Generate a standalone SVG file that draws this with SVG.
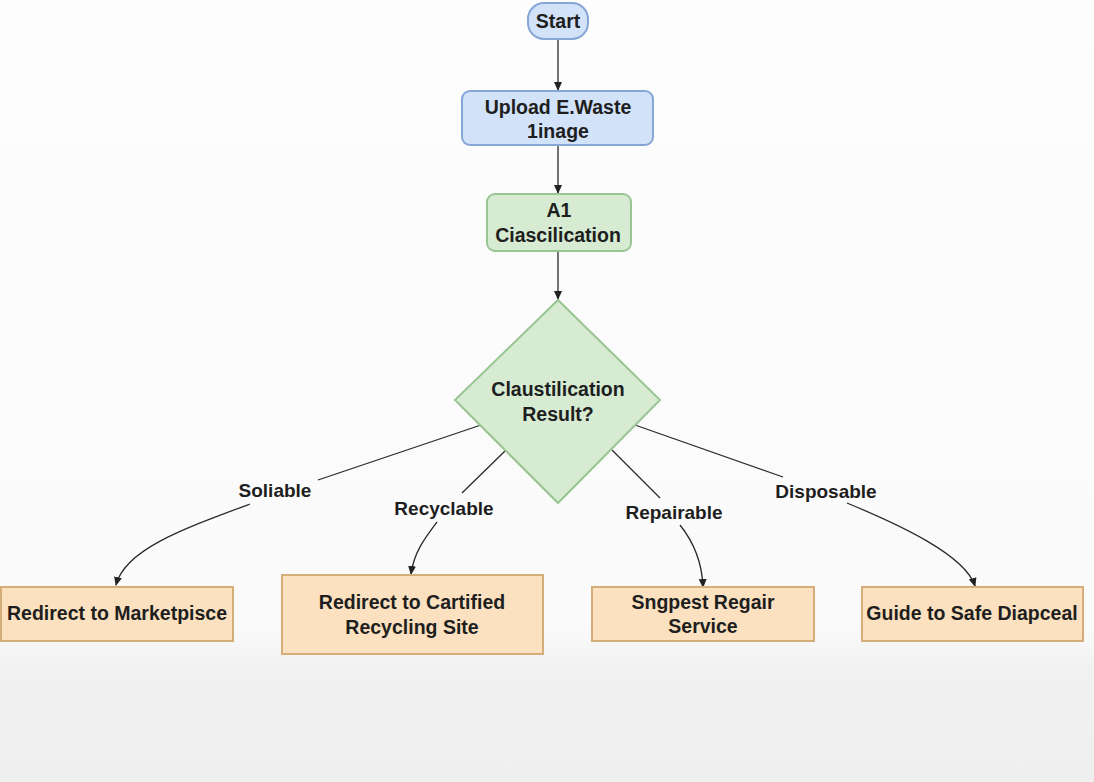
<svg xmlns="http://www.w3.org/2000/svg" width="1094" height="782" viewBox="0 0 1094 782">
<defs>
<linearGradient id="bg" x1="0" y1="0" x2="0" y2="1">
<stop offset="0" stop-color="#fdfdfd"/>
<stop offset="0.8" stop-color="#fafafa"/>
<stop offset="0.86" stop-color="#f1f1f1"/>
<stop offset="1" stop-color="#efefef"/>
</linearGradient>
<marker id="ah" markerWidth="10" markerHeight="10" refX="8" refY="5" orient="auto" markerUnits="userSpaceOnUse">
<path d="M0,1 L9,5 L0,9 Z" fill="#222"/>
</marker>
<style>
text{font-family:"Liberation Sans",Arial,sans-serif;font-weight:bold;fill:#1e1e1e;text-anchor:middle}
.n{font-size:19.5px}
.lb{font-size:19px}
.blue{fill:#d2e2f8;stroke:#86a6d6;stroke-width:2}
.green{fill:#d6ebd2;stroke:#98c592;stroke-width:2}
.org{fill:#fbe1bf;stroke:#d4ad78;stroke-width:2}
.c{fill:none;stroke:#2a2a2a;stroke-width:1.3}
</style>
</defs>
<rect width="1094" height="782" fill="url(#bg)"/>
<g id="connectors">
<line class="c" x1="558" y1="39" x2="558" y2="90" marker-end="url(#ah)"/>
<line class="c" x1="558" y1="145" x2="558" y2="193" marker-end="url(#ah)"/>
<line class="c" x1="558" y1="251" x2="558" y2="299" marker-end="url(#ah)"/>
<path class="c" d="M481,425 L318,480"/>
<path class="c" d="M250,504 C180,530 125,550 116,585" marker-end="url(#ah)"/>
<path class="c" d="M505,451 L462,493"/>
<path class="c" d="M437,522 C425,538 414,552 411,574" marker-end="url(#ah)"/>
<path class="c" d="M612,450 L660,498"/>
<path class="c" d="M680,525 C692,540 702,560 703,587" marker-end="url(#ah)"/>
<path class="c" d="M635,425 L783,477"/>
<path class="c" d="M847,503 C900,525 965,555 975,586" marker-end="url(#ah)"/>
</g>
<g id="start">
<rect class="blue" x="528" y="3" width="60" height="36" rx="16"/>
<text class="n" x="558" y="28">Start</text>
</g>
<g id="upload">
<rect class="blue" x="462" y="91" width="191" height="54" rx="8"/>
<text class="n" x="558" y="114">Upload E.Waste</text>
<text class="n" x="558" y="138">1inage</text>
</g>
<g id="ai">
<rect class="green" x="487" y="194" width="144" height="57" rx="8"/>
<text class="n" x="559" y="217">A1</text>
<text class="n" x="558" y="242">Ciascilication</text>
</g>
<g id="decision">
<polygon class="green" points="558,300 660,400 558,503 455,400"/>
<text class="n" x="558" y="396">Claustilication</text>
<text class="n" x="558" y="421">Result?</text>
</g>
<g id="labels">
<text class="lb" x="275" y="497">Soliable</text>
<text class="lb" x="444" y="515">Recyclable</text>
<text class="lb" x="674" y="519">Repairable</text>
<text class="lb" x="826" y="498">Disposable</text>
</g>
<g id="marketplace">
<rect class="org" x="1" y="587" width="232" height="54"/>
<text class="n" x="117" y="620">Redirect to Marketpisce</text>
</g>
<g id="recycling">
<rect class="org" x="282" y="575" width="261" height="79"/>
<text class="n" x="412" y="609">Redirect to Cartified</text>
<text class="n" x="412" y="634">Recycling Site</text>
</g>
<g id="repair">
<rect class="org" x="592" y="587" width="222" height="54"/>
<text class="n" x="703" y="609">Sngpest Regair</text>
<text class="n" x="703" y="633">Service</text>
</g>
<g id="disposal">
<rect class="org" x="862" y="587" width="221" height="54"/>
<text class="n" x="972" y="620">Guide to Safe Diapceal</text>
</g>
</svg>
